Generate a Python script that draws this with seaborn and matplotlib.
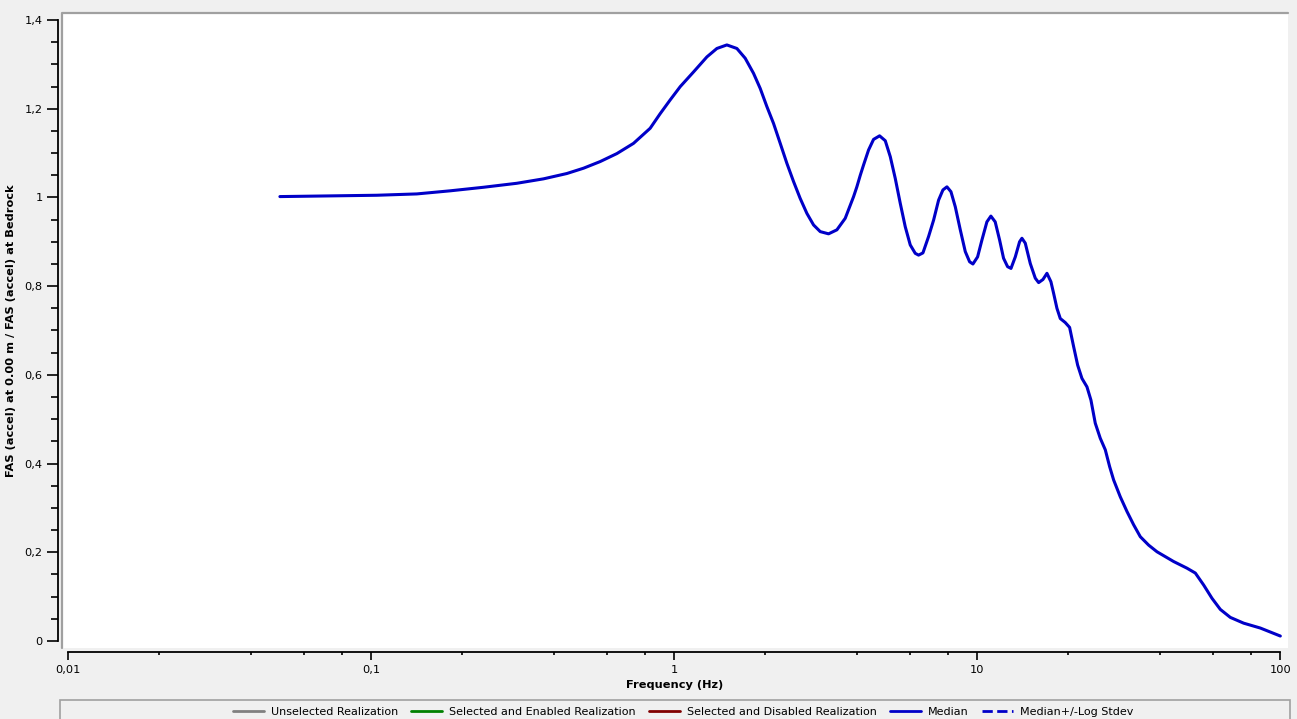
import numpy as np
import pandas as pd
import seaborn as sns
import matplotlib.pyplot as plt
from matplotlib.lines import Line2D
from matplotlib.patches import Rectangle
from matplotlib.ticker import FuncFormatter, LogLocator, MultipleLocator

sns.set_style("ticks", {"text.color": "black", "axes.labelcolor": "black",
                        "xtick.color": "black", "ytick.color": "black"})
plt.rcParams['font.family'] = ['DejaVu Sans']

# values (frequency in Hz, surface / bedrock FAS ratio)
freq = [0.05, 0.1044, 0.1415, 0.1823, 0.2348, 0.3025, 0.3705, 0.4423, 0.5022, 0.570,
        0.647, 0.734, 0.833, 0.899, 0.970, 1.047, 1.158, 1.282, 1.383, 1.492,
        1.610, 1.715, 1.827, 1.922, 2.022, 2.127, 2.238, 2.354, 2.476, 2.604,
        2.741, 2.883, 3.033, 3.231, 3.442, 3.667, 3.908, 4.006, 4.111, 4.214,
        4.378, 4.548, 4.761, 4.971, 5.164, 5.363, 5.570, 5.786, 6.010, 6.243,
        6.403, 6.618, 6.909, 7.177, 7.454, 7.704, 7.942, 8.188, 8.462, 8.790,
        9.129, 9.435, 9.676, 10.025, 10.36, 10.76, 11.09, 11.46, 11.85, 12.21,
        12.59, 12.92, 13.35, 13.79, 14.04, 14.40, 14.96, 15.54, 15.94, 16.47,
        16.98, 17.50, 17.86, 18.32, 18.79, 19.51, 20.17, 20.79, 21.44, 22.15,
        23.01, 23.72, 24.51, 25.46, 26.45, 27.34, 28.18, 29.64, 31.18, 32.80,
        34.51, 36.77, 39.18, 41.5, 44.46, 49.20, 52.43, 55.85, 59.51, 63.39,
        68.39, 75.68, 85.90, 100.0]
ratio = [1.002, 1.005, 1.008, 1.015, 1.023, 1.032, 1.042, 1.054, 1.066, 1.081,
         1.099, 1.122, 1.156, 1.189, 1.220, 1.250, 1.283, 1.317, 1.336, 1.344,
         1.336, 1.314, 1.280, 1.246, 1.205, 1.167, 1.122, 1.077, 1.036, 0.998,
         0.964, 0.938, 0.923, 0.918, 0.927, 0.953, 1.002, 1.024, 1.050, 1.073,
         1.107, 1.131, 1.139, 1.128, 1.092, 1.043, 0.987, 0.934, 0.893, 0.874,
         0.870, 0.875, 0.912, 0.949, 0.994, 1.017, 1.024, 1.013, 0.979, 0.927,
         0.878, 0.855, 0.850, 0.866, 0.904, 0.945, 0.958, 0.945, 0.904, 0.863,
         0.844, 0.840, 0.866, 0.900, 0.908, 0.897, 0.851, 0.818, 0.808, 0.815,
         0.829, 0.810, 0.784, 0.750, 0.727, 0.718, 0.707, 0.664, 0.622, 0.592,
         0.573, 0.543, 0.491, 0.457, 0.431, 0.393, 0.363, 0.325, 0.292, 0.262,
         0.235, 0.216, 0.201, 0.191, 0.179, 0.164, 0.153, 0.126, 0.096, 0.071,
         0.053, 0.040, 0.029, 0.011]

legend_labels = ["Unselected Realization", "Selected and Enabled Realization",
                 "Selected and Disabled Realization", "Median", "Median+/-Log Stdev"]
legend_colors = ["#808080", "#008000", "#800000", "#0000c8", "#0000c8"]
legend_styles = ["-", "-", "-", "-", "--"]

df = pd.DataFrame({"freq": freq, "ratio": ratio})

BG = "#f0f0f0"
fig = plt.figure(figsize=(12.97, 7.19), dpi=100, facecolor=BG)
ax = fig.add_axes([62 / 1297, 1 - 648 / 719, (1288 - 62) / 1297, (648 - 13) / 719])
ax.set_facecolor("white")

sns.lineplot(data=df, x="freq", y="ratio", ax=ax, color="#0000c8", linewidth=2.2)

ax.set_xscale("log")
ax.set_xlim(0.00955, 106)
ax.set_ylim(-0.016, 1.416)

fmt = FuncFormatter(lambda v, p: f"{v:g}".replace(".", ","))
ax.xaxis.set_major_locator(LogLocator(base=10))
ax.xaxis.set_minor_locator(LogLocator(base=10, subs=[2, 4, 6, 8]))
ax.xaxis.set_major_formatter(fmt)
ax.xaxis.set_minor_formatter(FuncFormatter(lambda v, p: ""))
ax.yaxis.set_major_locator(MultipleLocator(0.2))
ax.yaxis.set_minor_locator(MultipleLocator(0.05))
ax.yaxis.set_major_formatter(fmt)

ax.tick_params(axis="both", which="major", labelsize=8.2, color="black",
               labelcolor="black", width=1.2)
ax.tick_params(axis="x", which="major", length=6, pad=3)
ax.tick_params(axis="x", which="minor", length=2.5, width=1.2)
ax.tick_params(axis="y", which="major", length=8, pad=3)
ax.tick_params(axis="y", which="minor", length=5, width=1.2)

sns.despine(ax=ax, offset=3, trim=True)
for s in ["left", "bottom"]:
    ax.spines[s].set_linewidth(1.3)
    ax.spines[s].set_color("black")

# sunken panel edge on top and left
ax.plot([0, 0, 1], [0, 1, 1], transform=ax.transAxes, color="#a0a0a0",
        linewidth=1.6, clip_on=False)

ax.set_xlabel("Frequency (Hz)", fontsize=8.2, fontweight="bold", labelpad=4)
ax.set_ylabel("FAS (accel) at 0.00 m / FAS (accel) at Bedrock", fontsize=8.2,
              fontweight="bold", labelpad=6)

# legend strip at the bottom
fig.patches.append(Rectangle((60 / 1297, -0.02), (1290 - 60) / 1297, 0.02 + (719 - 700) / 719,
                             transform=fig.transFigure, facecolor=BG,
                             edgecolor="#a0a0a0", linewidth=1.2))
handles = [Line2D([], [], color=c, linestyle=ls, linewidth=2)
           for c, ls in zip(legend_colors, legend_styles)]
fig.legend(handles, legend_labels, loc="center", ncol=5, frameon=False,
           bbox_to_anchor=(683 / 1297, 1 - 712 / 719), fontsize=8,
           handlelength=2.8, handletextpad=0.6, columnspacing=1.2)

fig.savefig("out.png", dpi=100, facecolor=BG)
